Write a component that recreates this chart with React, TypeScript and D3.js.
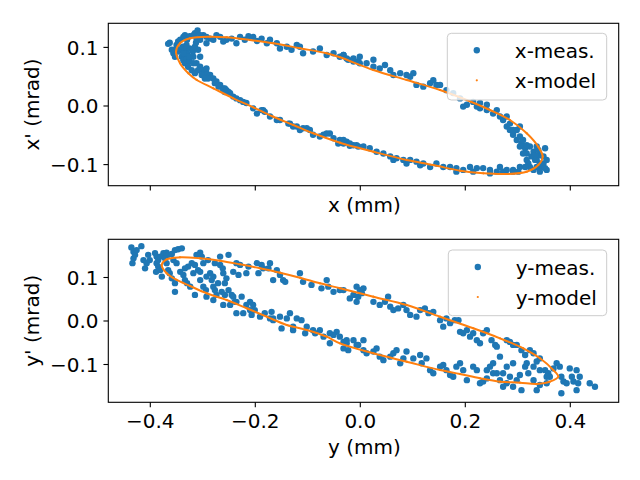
import React from "react";
import * as d3 from "d3";

// ---------- data ----------
const xTicks = [-0.4, -0.2, 0.0, 0.2, 0.4];
const xTickLabels = ["\u22120.4", "\u22120.2", "0.0", "0.2", "0.4"];
const yTicks = [-0.1, 0.0, 0.1];
const yTickLabels = ["\u22120.1", "0.0", "0.1"];

const xLabelTop = "x (mm)";
const yLabelTop = "x' (mrad)";
const xLabelBottom = "y (mm)";
const yLabelBottom = "y' (mrad)";
const legendTop = ["x-meas.", "x-model"];
const legendBottom = ["y-meas.", "y-model"];

const xModel: [number, number][] = [
  [-0.351, 0.0927], [-0.3434, 0.107], [-0.3244, 0.1155], [-0.2863, 0.1183], [-0.2545, 0.1172],
  [-0.2101, 0.1126], [-0.1657, 0.107], [-0.1149, 0.0985], [-0.064, 0.0899], [-0.0387, 0.0831],
  [0.0248, 0.0614], [0.0884, 0.0444], [0.1518, 0.0273], [0.2027, 0.0102], [0.247, -0.0068],
  [0.2851, -0.0239], [0.317, -0.0466], [0.339, -0.0695], [0.3474, -0.0865], [0.339, -0.1007],
  [0.317, -0.1121], [0.2789, -0.116], [0.2343, -0.1148], [0.1899, -0.1104], [0.139, -0.1007],
  [0.0884, -0.0922], [0.0248, -0.078], [-0.0387, -0.0626], [-0.0895, -0.0466], [-0.1276, -0.0324],
  [-0.1657, -0.0183], [-0.2038, -0.0022], [-0.2419, 0.0131], [-0.28, 0.0302], [-0.3116, 0.0444],
  [-0.3276, 0.0558], [-0.3434, 0.0729],
];

const yModel: [number, number][] = [
  [-0.3783, 0.1287], [-0.3688, 0.1418], [-0.3434, 0.1464], [-0.3053, 0.1441], [-0.2672, 0.1386],
  [-0.2291, 0.1303], [-0.191, 0.1211], [-0.153, 0.111], [-0.1149, 0.0995], [-0.0768, 0.0867],
  [-0.0387, 0.0752], [0.0248, 0.0559], [0.0884, 0.0368], [0.1518, 0.0099], [0.2152, -0.0168],
  [0.2661, -0.0398], [0.3105, -0.0628], [0.3423, -0.0857], [0.3676, -0.1126], [0.3771, -0.128],
  [0.3613, -0.1395], [0.336, -0.1448], [0.3042, -0.1418], [0.2661, -0.1395], [0.228, -0.1317],
  [0.1899, -0.1218], [0.1518, -0.1126], [0.0884, -0.0936], [0.0248, -0.0743], [-0.0387, -0.0513],
  [-0.064, -0.0361], [-0.1021, -0.0207], [-0.1402, -0.0092], [-0.1783, 0.0099], [-0.2164, 0.0292],
  [-0.2545, 0.0483], [-0.2926, 0.0637], [-0.3244, 0.0805], [-0.3497, 0.0943], [-0.3688, 0.1097],
];

const xMeas: [number, number][] = [
  [-0.366, 0.106], [-0.363, 0.108], [-0.359, 0.096], [-0.356, 0.09], [-0.353, 0.084], [-0.35, 0.104],
  [-0.347, 0.11], [-0.343, 0.113], [-0.337, 0.118], [-0.334, 0.121], [-0.33, 0.113], [-0.325, 0.119],
  [-0.318, 0.121], [-0.315, 0.124], [-0.31, 0.129], [-0.312, 0.115], [-0.305, 0.113], [-0.338, 0.101],
  [-0.334, 0.096], [-0.33, 0.09], [-0.325, 0.098], [-0.319, 0.093], [-0.315, 0.101], [-0.309, 0.096],
  [-0.305, 0.084], [-0.34, 0.084], [-0.337, 0.078], [-0.334, 0.073], [-0.331, 0.081], [-0.325, 0.076],
  [-0.318, 0.084], [-0.312, 0.073], [-0.305, 0.067], [-0.299, 0.061], [-0.293, 0.056], [-0.286, 0.053],
  [-0.28, 0.047], [-0.274, 0.042], [-0.267, 0.036], [-0.261, 0.03], [-0.255, 0.027], [-0.248, 0.022],
  [-0.242, 0.016], [-0.229, 0.01], [-0.217, 0.005], [-0.204, -0.004], [-0.197, -0.013], [-0.185, -0.007],
  [-0.172, -0.018], [-0.159, -0.024], [-0.134, -0.03], [-0.121, -0.035], [-0.109, -0.038], [-0.096, -0.041],
  [-0.07, -0.049], [-0.058, -0.047], [-0.051, -0.055], [-0.039, -0.058], [-0.026, -0.061], [-0.013, -0.067],
  [-0.004, -0.069],
  [-0.293, 0.107], [-0.286, 0.115], [-0.28, 0.113], [-0.274, 0.121], [-0.267, 0.118], [-0.261, 0.11],
  [-0.255, 0.113], [-0.245, 0.115], [-0.236, 0.107], [-0.229, 0.118], [-0.22, 0.113], [-0.213, 0.119],
  [-0.204, 0.118], [-0.197, 0.111], [-0.188, 0.115], [-0.178, 0.107], [-0.172, 0.113], [-0.159, 0.107],
  [-0.153, 0.098], [-0.14, 0.101], [-0.131, 0.096], [-0.121, 0.104], [-0.115, 0.101], [-0.109, 0.09],
  [-0.09, 0.093], [-0.077, 0.098], [-0.064, 0.087], [-0.051, 0.09], [-0.039, 0.084], [-0.032, 0.087],
  [-0.023, 0.079], [-0.013, 0.081], [-0.004, 0.076],
  [-0.29, 0.047], [-0.27, 0.033], [-0.258, 0.03], [-0.251, 0.024], [-0.236, 0.013], [-0.223, 0.007],
  [-0.188, -0.007], [-0.182, -0.01], [-0.153, -0.024], [-0.137, -0.03], [-0.128, -0.035], [-0.115, -0.041],
  [-0.102, -0.038], [-0.09, -0.049], [-0.077, -0.052], [-0.064, -0.047], [-0.042, -0.064], [-0.032, -0.064],
  [-0.02, -0.068],
  [-0.343, 0.096], [-0.331, 0.104], [-0.328, 0.067], [-0.321, 0.061], [-0.315, 0.056], [-0.309, 0.061],
  [-0.302, 0.053], [-0.296, 0.047], [-0.293, 0.064], [-0.347, 0.093], [-0.35, 0.098], [-0.313, 0.108],
  [-0.299, 0.121], [-0.305, 0.121], [-0.293, 0.118], [-0.318, 0.073], [-0.337, 0.09], [-0.326, 0.084],
  [-0.277, 0.039], [-0.261, 0.027], [-0.258, 0.024],
  [-0.032, 0.087], [-0.026, 0.081], [-0.013, 0.076], [-0.001, 0.073], [0.012, 0.073], [0.025, 0.067],
  [0.037, 0.064], [0.047, 0.07], [0.057, 0.061], [0.063, 0.053], [0.076, 0.056], [0.088, 0.053],
  [0.095, 0.05], [0.107, 0.036], [0.12, 0.033], [0.133, 0.039], [0.145, 0.036], [0.164, 0.027],
  [0.177, 0.022], [0.19, 0.013], [0.196, -0.001], [0.203, 0.002], [0.215, 0.007], [0.222, -0.001],
  [0.228, -0.004], [0.241, -0.007], [0.253, -0.013], [0.266, -0.018], [0.272, -0.024], [0.279, -0.035],
  [0.285, -0.041], [0.291, -0.049], [0.298, -0.058], [0.304, -0.052], [0.307, -0.064], [0.314, -0.072],
  [0.317, -0.081], [0.323, -0.069], [0.326, -0.086], [0.33, -0.078], [0.336, -0.092], [0.342, -0.084],
  [0.349, -0.098], [0.352, -0.072], [0.355, -0.109], [0.345, -0.104], [0.336, -0.104], [0.323, -0.104],
  [0.304, -0.104], [0.291, -0.109], [0.279, -0.109], [0.266, -0.104], [0.26, -0.112], [0.247, -0.109],
  [0.234, -0.106], [0.222, -0.106], [0.209, -0.104], [0.196, -0.109], [0.183, -0.106], [0.171, -0.104],
  [0.158, -0.104], [0.145, -0.098], [0.133, -0.104], [0.12, -0.098], [0.107, -0.095], [0.095, -0.092],
  [0.082, -0.092], [0.069, -0.089], [0.057, -0.086], [0.044, -0.081], [0.031, -0.078], [0.018, -0.072],
  [0.006, -0.069], [-0.007, -0.067], [-0.02, -0.064], [-0.032, -0.058],
  [0.31, -0.081], [0.317, -0.092], [0.32, -0.098], [0.333, -0.084], [0.339, -0.075], [0.349, -0.086],
  [0.314, -0.104], [0.33, -0.109], [0.342, -0.112], [0.301, -0.112], [0.272, -0.112], [0.291, -0.041],
  [0.285, -0.03],
  [0.304, -0.069], [0.31, -0.058], [0.317, -0.067], [0.333, -0.092], [0.342, -0.098], [0.352, -0.106],
  [0.355, -0.092], [0.336, -0.069], [0.298, -0.041], [0.304, -0.035], [0.279, -0.018], [0.26, -0.007],
  [0.241, 0.002], [0.228, 0.005], [0.139, 0.044], [0.152, 0.036], [0.101, 0.056], [0.025, 0.079],
  [-0.001, 0.084], [0.291, -0.112], [0.247, -0.115], [0.215, -0.112], [0.183, -0.112], [0.114, -0.101],
  [0.088, -0.098], [0.063, -0.092],
];

const yMeas: [number, number][] = [
  [-0.436, 0.169], [-0.432, 0.159], [-0.432, 0.144], [-0.429, 0.152], [-0.434, 0.133], [-0.417, 0.172],
  [-0.413, 0.14], [-0.41, 0.121], [-0.404, 0.152], [-0.407, 0.133], [-0.391, 0.156], [-0.388, 0.148],
  [-0.385, 0.14], [-0.389, 0.113], [-0.388, 0.133], [-0.385, 0.125], [-0.381, 0.117], [-0.378, 0.102],
  [-0.375, 0.156], [-0.369, 0.157], [-0.366, 0.152], [-0.359, 0.154], [-0.353, 0.163], [-0.347, 0.165],
  [-0.34, 0.167], [-0.369, 0.133], [-0.366, 0.117], [-0.363, 0.11], [-0.359, 0.098], [-0.353, 0.087],
  [-0.353, 0.067], [-0.343, 0.113], [-0.337, 0.106], [-0.334, 0.094], [-0.33, 0.087], [-0.324, 0.079],
  [-0.328, 0.125], [-0.321, 0.133], [-0.315, 0.129], [-0.312, 0.152], [-0.305, 0.157], [-0.302, 0.148],
  [-0.299, 0.133], [-0.309, 0.117], [-0.305, 0.094], [-0.299, 0.079], [-0.294, 0.071], [-0.315, 0.06],
  [-0.286, 0.11], [-0.283, 0.094], [-0.28, 0.079], [-0.277, 0.071], [-0.274, 0.06], [-0.267, 0.129],
  [-0.262, 0.121], [-0.261, 0.11], [-0.258, 0.087], [-0.255, 0.098], [-0.251, 0.152], [-0.267, 0.148],
  [-0.29, 0.14], [-0.277, 0.133], [-0.251, 0.071], [-0.245, 0.06], [-0.239, 0.044], [-0.242, 0.113],
  [-0.236, 0.133], [-0.232, 0.106], [-0.229, 0.129], [-0.226, 0.056], [-0.217, 0.11], [-0.213, 0.125],
  [-0.21, 0.044], [-0.204, 0.037], [-0.201, 0.025], [-0.197, 0.133], [-0.194, 0.11], [-0.188, 0.129],
  [-0.185, 0.121], [-0.182, 0.018], [-0.175, 0.121], [-0.172, 0.133], [-0.169, 0.021], [-0.166, 0.094],
  [-0.159, 0.117], [-0.153, 0.106], [-0.147, 0.094], [-0.143, 0.09], [-0.14, 0.006], [-0.134, 0.018],
  [-0.128, -0.013], [-0.121, 0.006], [-0.115, 0.11], [-0.112, 0.002], [-0.109, 0.09], [-0.102, -0.013],
  [-0.093, 0.083], [-0.09, -0.021], [-0.077, -0.021], [-0.074, 0.075], [-0.064, 0.094], [-0.061, 0.079],
  [-0.058, -0.028], [-0.051, 0.067], [-0.045, -0.025], [-0.039, 0.071], [-0.026, -0.044], [-0.023, -0.067],
  [-0.013, 0.06], [-0.007, 0.044], [-0.004, -0.055], [-0.02, 0.052], [-0.058, -0.051], [-0.032, -0.063],
  [-0.293, 0.056], [-0.28, 0.048], [-0.261, 0.037], [-0.248, 0.037], [-0.236, 0.018], [-0.223, 0.018],
  [-0.207, 0.014], [-0.191, 0.01], [-0.172, 0.006], [-0.166, 0.002], [-0.15, -0.017], [-0.128, -0.021],
  [-0.105, -0.028], [-0.086, -0.028], [-0.07, -0.036], [-0.051, -0.032],
  [-0.426, 0.163], [-0.401, 0.14], [-0.381, 0.148], [-0.372, 0.144], [-0.356, 0.14], [-0.35, 0.133],
  [-0.334, 0.121], [-0.318, 0.11], [-0.305, 0.113], [-0.293, 0.102], [-0.28, 0.102], [-0.271, 0.087],
  [-0.264, 0.067], [-0.258, 0.06], [-0.242, 0.056], [-0.236, 0.044], [-0.217, 0.037], [-0.21, 0.025],
  [-0.166, 0.006], [-0.153, 0.01],
  [-0.032, 0.071], [-0.007, 0.079], [-0.001, 0.071], [0.006, 0.075], [-0.004, 0.056], [0.003, 0.064],
  [0.025, 0.044], [0.037, 0.037], [0.047, 0.044], [0.057, 0.033], [0.053, 0.056], [0.063, 0.025],
  [0.072, 0.029], [0.082, 0.037], [0.088, 0.025], [0.095, 0.014], [0.107, 0.01], [0.114, 0.025],
  [0.123, 0.029], [0.13, 0.018], [0.139, 0.021], [0.152, 0.002], [0.158, -0.013], [0.164, 0.006],
  [0.171, -0.005], [0.18, 0.002], [0.187, 0.002], [0.19, -0.025], [0.196, -0.028], [0.203, -0.021],
  [0.209, -0.036], [0.215, -0.028], [0.222, -0.044], [0.228, -0.051], [0.234, -0.028], [0.241, -0.021],
  [0.25, -0.044], [0.257, -0.055], [0.26, -0.059], [0.266, -0.082], [0.279, -0.044], [0.285, -0.048],
  [0.291, -0.055], [0.298, -0.055], [0.307, -0.067], [0.314, -0.078], [0.323, -0.067], [0.33, -0.074],
  [0.336, -0.093], [0.342, -0.086], [0.352, -0.113], [0.358, -0.12], [0.374, -0.097], [0.38, -0.105],
  [0.383, -0.128], [0.387, -0.139], [0.399, -0.109], [0.403, -0.128], [0.406, -0.139], [0.415, -0.143],
  [0.412, -0.113], [0.437, -0.143], [0.447, -0.151], [0.383, -0.166], [0.412, -0.159],
  [-0.039, -0.036], [-0.032, -0.048], [-0.026, -0.051], [-0.013, -0.044], [-0.007, -0.055], [0.006, -0.044],
  [0.006, -0.067], [0.012, -0.074], [0.025, -0.07], [0.031, -0.063], [0.037, -0.082], [0.044, -0.09],
  [0.057, -0.082], [0.063, -0.074], [0.069, -0.067], [0.076, -0.097], [0.082, -0.086], [0.088, -0.07],
  [0.101, -0.086], [0.114, -0.078], [0.117, -0.097], [0.126, -0.086], [0.133, -0.113], [0.139, -0.12],
  [0.152, -0.105], [0.158, -0.101], [0.164, -0.113], [0.171, -0.124], [0.177, -0.128], [0.183, -0.105],
  [0.19, -0.097], [0.196, -0.113], [0.203, -0.136], [0.215, -0.105], [0.222, -0.113], [0.228, -0.143],
  [0.234, -0.139], [0.241, -0.132], [0.247, -0.105], [0.253, -0.097], [0.26, -0.12], [0.266, -0.136],
  [0.272, -0.12], [0.279, -0.143], [0.285, -0.128], [0.291, -0.151], [0.298, -0.136], [0.304, -0.124],
  [0.314, -0.105], [0.32, -0.12], [0.33, -0.136], [0.336, -0.159], [0.342, -0.147], [0.307, -0.159],
  [0.355, -0.143], [0.361, -0.128], [0.368, -0.109], [0.272, -0.151],
  [0.342, -0.113], [0.355, -0.128], [0.33, -0.105], [0.317, -0.097], [0.291, -0.097], [0.279, -0.105],
  [0.253, -0.12], [0.241, -0.113], [0.418, -0.128], [0.393, -0.143],
];

// ---------- styling ----------
const BLUE = "#1f77b4";
const ORANGE = "#ff7f0e";
const FONT = "'DejaVu Sans', sans-serif";
const FS = 20;
const TICK = 4.86;
const R_MEAS = 3.2;
const R_MODEL = 1.1;

const X0 = 108.3;
const X1 = 618.7;

type PanelProps = {
  top: number;
  bottom: number;
  yDomain: [number, number];
  meas: [number, number][];
  model: [number, number][];
  showXTickLabels: boolean;
  xLabel: string;
  xLabelY: number;
  yLabel: string;
  legend: string[];
  legendBox: { x: number; y: number; w: number; h: number };
};

function Panel(p: PanelProps) {
  const x = d3.scaleLinear().domain([-0.48, 0.4922]).range([X0, X1]);
  const y = d3.scaleLinear().domain(p.yDomain).range([p.bottom, p.top]);
  const line = d3
    .line<[number, number]>()
    .x((d) => x(d[0]))
    .y((d) => y(d[1]))
    .curve(d3.curveCatmullRomClosed.alpha(0.5));
  const clipId = `clip-${Math.round(p.top)}`;
  const lb = p.legendBox;
  const midY = (p.top + p.bottom) / 2;
  return (
    <g>
      <defs>
        <clipPath id={clipId}>
          <rect x={X0} y={p.top} width={X1 - X0} height={p.bottom - p.top} />
        </clipPath>
      </defs>
      <g clipPath={`url(#${clipId})`}>
        {p.meas.map((d, i) => (
          <circle key={i} cx={x(d[0])} cy={y(d[1])} r={R_MEAS} fill={BLUE} />
        ))}
        <path d={line(p.model) || ""} fill="none" stroke={ORANGE} strokeWidth={2} />
        {p.model.map((d, i) => (
          <circle key={"m" + i} cx={x(d[0])} cy={y(d[1])} r={R_MODEL} fill={ORANGE} />
        ))}
      </g>
      <rect
        x={X0}
        y={p.top}
        width={X1 - X0}
        height={p.bottom - p.top}
        fill="none"
        stroke="#000"
        strokeWidth={1.1}
      />
      {xTicks.map((t, i) => (
        <g key={"xt" + i}>
          <line x1={x(t)} x2={x(t)} y1={p.bottom} y2={p.bottom + TICK} stroke="#000" strokeWidth={1.1} />
          {p.showXTickLabels && (
            <text x={x(t)} y={p.bottom + 25.8} textAnchor="middle" fontFamily={FONT} fontSize={FS} fill="#000">
              {xTickLabels[i]}
            </text>
          )}
        </g>
      ))}
      {yTicks.map((t, i) => (
        <g key={"yt" + i}>
          <line x1={X0 - TICK} x2={X0} y1={y(t)} y2={y(t)} stroke="#000" strokeWidth={1.1} />
          <text
            x={X0 - 2 * TICK}
            y={y(t)}
            dy="0.36em"
            textAnchor="end"
            fontFamily={FONT}
            fontSize={FS}
            fill="#000"
          >
            {yTickLabels[i]}
          </text>
        </g>
      ))}
      <text x={(X0 + X1) / 2 + 1} y={p.xLabelY} textAnchor="middle" fontFamily={FONT} fontSize={FS} fill="#000">
        {p.xLabel}
      </text>
      <text
        transform={`translate(38.7, ${midY}) rotate(-90)`}
        textAnchor="middle"
        fontFamily={FONT}
        fontSize={FS}
        fill="#000"
      >
        {p.yLabel}
      </text>
      <rect
        x={lb.x}
        y={lb.y}
        width={lb.w}
        height={lb.h}
        rx={4}
        ry={4}
        fill="#fff"
        fillOpacity={0.8}
        stroke="#cccccc"
        strokeWidth={1}
      />
      <circle cx={lb.x + 29.5} cy={lb.y + 17} r={R_MEAS} fill={BLUE} />
      <circle cx={lb.x + 29.5} cy={lb.y + 47} r={R_MODEL} fill={ORANGE} />
      <text x={lb.x + 67.5} y={lb.y + 24.8} fontFamily={FONT} fontSize={FS} fill="#000">
        {p.legend[0]}
      </text>
      <text x={lb.x + 67.5} y={lb.y + 54.8} fontFamily={FONT} fontSize={FS} fill="#000">
        {p.legend[1]}
      </text>
    </g>
  );
}

export default function App() {
  return (
    <svg
      width={640}
      height={480}
      viewBox="0 0 640 480"
      style={{ position: "absolute", left: 0, top: 0, background: "#fff" }}
    >
      <rect x={0} y={0} width={640} height={480} fill="#fff" />
      <Panel
        top={23.3}
        bottom={185.7}
        yDomain={[-0.136, 0.1411]}
        meas={xMeas}
        model={xModel}
        showXTickLabels={false}
        xLabel={xLabelTop}
        xLabelY={212.3}
        yLabel={yLabelTop}
        legend={legendTop}
        legendBox={{ x: 447.3, y: 33.3, w: 159.4, h: 66.7 }}
      />
      <Panel
        top={239.3}
        bottom={402.3}
        yDomain={[-0.1869, 0.1878]}
        meas={yMeas}
        model={yModel}
        showXTickLabels={true}
        xLabel={xLabelBottom}
        xLabelY={453.5}
        yLabel={yLabelBottom}
        legend={legendBottom}
        legendBox={{ x: 448.3, y: 250, w: 158.4, h: 65.7 }}
      />
    </svg>
  );
}
